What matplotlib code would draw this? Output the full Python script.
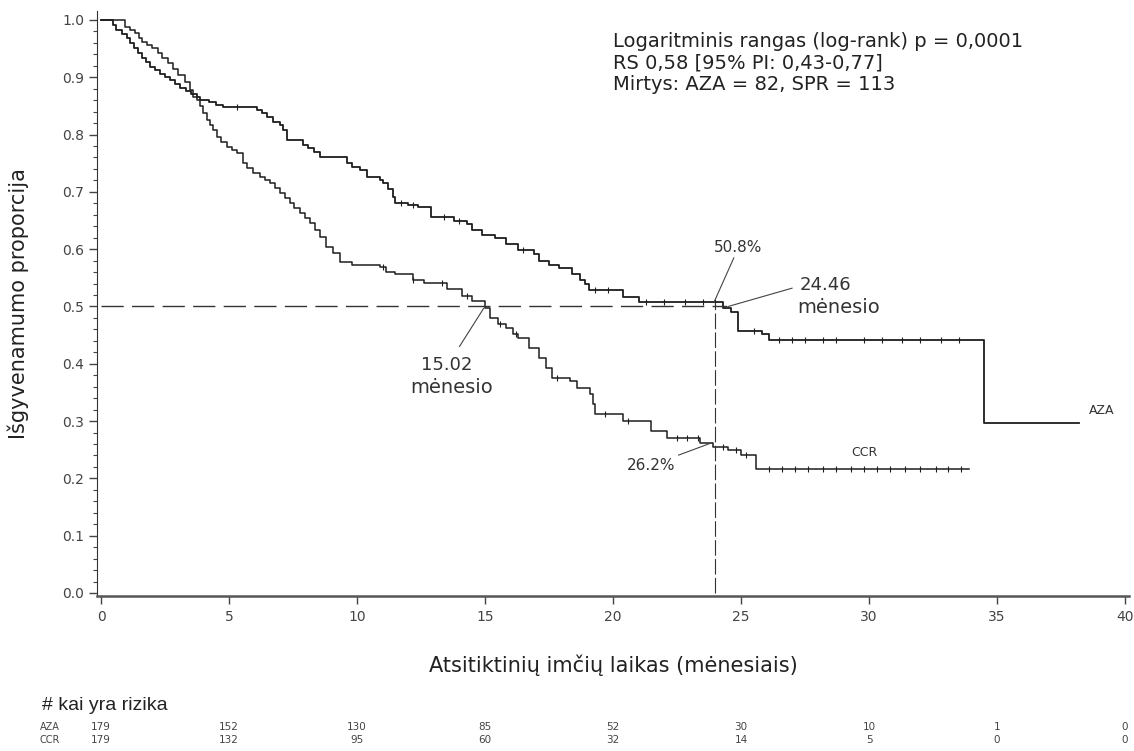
import numpy as np
import matplotlib.pyplot as plt
from matplotlib.ticker import MultipleLocator

plt.rcParams['font.family'] = ['DejaVu Sans']

# Kaplan-Meier step points (months, survival proportion)
aza_t = [0, 0.45, 0.6, 0.8, 1.0, 1.15, 1.3, 1.45, 1.6, 1.75, 1.9, 2.1, 2.3, 2.5,
         2.7, 2.9, 3.1, 3.3, 3.5, 3.74, 3.86, 4.2, 4.5, 4.76, 6.08, 6.3, 6.47,
         6.7, 6.98, 7.1, 7.25, 7.88, 8.1, 8.3, 8.54, 9.6, 9.8, 10.1, 10.4, 10.9,
         11.0, 11.2, 11.4, 11.5, 12.0, 12.4, 12.9, 13.8, 14.3, 14.5, 14.9, 15.4,
         15.8, 16.3, 16.9, 17.1, 17.5, 17.9, 18.4, 18.7, 18.9, 19.06, 20.4, 21.0,
         24.3, 24.6, 24.9, 25.8, 26.1, 34.5, 38.2]
aza_s = [1.0, 0.992, 0.983, 0.976, 0.968, 0.96, 0.951, 0.943, 0.934, 0.926,
         0.918, 0.912, 0.906, 0.9, 0.895, 0.889, 0.881, 0.876, 0.871, 0.866,
         0.860, 0.856, 0.852, 0.848, 0.843, 0.837, 0.831, 0.822, 0.817, 0.808,
         0.79, 0.782, 0.776, 0.77, 0.76, 0.75, 0.744, 0.738, 0.726, 0.721,
         0.716, 0.705, 0.691, 0.681, 0.677, 0.674, 0.656, 0.65, 0.644, 0.633,
         0.625, 0.619, 0.609, 0.598, 0.592, 0.58, 0.573, 0.567, 0.556, 0.547,
         0.539, 0.528, 0.516, 0.508, 0.498, 0.49, 0.458, 0.452, 0.441, 0.297,
         0.297]

ccr_t = [0, 0.94, 1.15, 1.33, 1.5, 1.6, 1.8, 1.99, 2.22, 2.4, 2.6, 2.8, 3.0,
         3.27, 3.47, 3.6, 3.75, 3.86, 4.0, 4.13, 4.25, 4.37, 4.52, 4.7, 4.91,
         5.1, 5.3, 5.54, 5.7, 5.93, 6.2, 6.4, 6.59, 6.8, 6.98, 7.2, 7.37, 7.55,
         7.76, 7.95, 8.15, 8.35, 8.54, 8.8, 9.06, 9.32, 9.8, 10.9, 11.15, 11.5,
         12.2, 12.6, 13.5, 14.1, 14.5, 15.0, 15.2, 15.5, 15.8, 16.1, 16.3, 16.7,
         17.1, 17.4, 17.6, 18.3, 18.6, 19.1, 19.2, 19.3, 20.4, 21.5, 22.1, 23.4,
         23.9, 24.5, 25.0, 25.6, 33.9]
ccr_s = [1.0, 0.988, 0.983, 0.977, 0.968, 0.962, 0.957, 0.951, 0.942, 0.934,
         0.925, 0.915, 0.904, 0.892, 0.878, 0.866, 0.86, 0.85, 0.838, 0.825,
         0.816, 0.808, 0.796, 0.787, 0.778, 0.773, 0.768, 0.75, 0.742, 0.733,
         0.726, 0.721, 0.716, 0.707, 0.698, 0.69, 0.681, 0.672, 0.663, 0.655,
         0.646, 0.634, 0.621, 0.604, 0.593, 0.578, 0.572, 0.569, 0.56, 0.556,
         0.546, 0.541, 0.53, 0.518, 0.51, 0.497, 0.48, 0.47, 0.463, 0.452,
         0.445, 0.428, 0.41, 0.393, 0.376, 0.37, 0.358, 0.348, 0.33, 0.313,
         0.3, 0.283, 0.271, 0.261, 0.254, 0.249, 0.24, 0.217, 0.217]

# censored observations
aza_cens = [5.3, 11.7, 12.2, 13.4, 14.0, 16.5, 19.3, 19.8, 21.3, 22.0, 22.8,
            23.5, 24.0, 25.5, 26.5, 27.0, 27.5, 28.2, 28.7, 29.8, 30.5, 31.3,
            32.0, 32.8, 33.5]
ccr_cens = [11.0, 12.2, 13.3, 14.3, 15.6, 16.2, 17.8, 19.7, 20.6, 22.5, 22.9,
            23.3, 24.3, 24.8, 25.2, 26.1, 26.6, 27.1, 27.6, 28.2, 28.7, 29.3,
            29.8, 30.3, 30.8, 31.4, 32.0, 32.6, 33.1, 33.6]

risk_times = [0, 5, 10, 15, 20, 25, 30, 35, 40]
risk_aza = [179, 152, 130, 85, 52, 30, 10, 1, 0]
risk_ccr = [179, 132, 95, 60, 32, 14, 5, 0, 0]

median_aza = 24.46
median_ccr = 15.02

fig = plt.figure(figsize=(11.34, 7.51), dpi=100)
ax = fig.add_axes([0.0857, 0.2066, 0.9098, 0.7783])

line_col = '#1e1e1e'
txt_col = '#333333'

ax.step(aza_t, aza_s, where='post', color=line_col, lw=1.3)
ax.step(ccr_t, ccr_s, where='post', color=line_col, lw=1.1)


def step_at(t, s, c):
    idx = np.searchsorted(t, c, side='right') - 1
    return np.asarray(s)[idx]


ax.plot(aza_cens, step_at(aza_t, aza_s, aza_cens), ls='none', marker='|',
        ms=4, mew=0.8, color=line_col)
ax.plot(ccr_cens, step_at(ccr_t, ccr_s, ccr_cens), ls='none', marker='|',
        ms=4, mew=0.8, color=line_col)

# median and 24-month reference lines
ax.hlines(0.5, 0, median_aza, colors='#333333', lw=1.0, linestyles=(0, (16, 6)))
ax.vlines(24.0, 0, 0.508, colors='#333333', lw=0.8, linestyles=(0, (14, 3)))

# annotations
ann = dict(arrowstyle='-', color='#444444', lw=0.8, shrinkA=0, shrinkB=0)
ax.annotate('50.8%', xy=(23.95, 0.508), xytext=(24.9, 0.603), ha='center',
            va='center', fontsize=11, color=txt_col, arrowprops=ann)
ax.annotate('', xy=(24.5, 0.5), xytext=(27.0, 0.532), arrowprops=ann)
ax.text(28.3, 0.538, '24.46', ha='center', va='center', fontsize=13, color=txt_col)
ax.text(28.8, 0.499, 'mėnesio', ha='center', va='center', fontsize=14, color=txt_col)
ax.annotate('', xy=(14.95, 0.497), xytext=(14.0, 0.43), arrowprops=ann)
ax.text(13.5, 0.398, '15.02', ha='center', va='center', fontsize=13, color=txt_col)
ax.text(13.7, 0.358, 'mėnesio', ha='center', va='center', fontsize=14, color=txt_col)
ax.annotate('26.2%', xy=(23.85, 0.262), xytext=(21.5, 0.223), ha='center',
            va='center', fontsize=11, color=txt_col, arrowprops=ann)
ax.text(29.8, 0.246, 'CCR', ha='center', va='center', fontsize=9, color=txt_col)
ax.text(38.6, 0.318, 'AZA', ha='left', va='center', fontsize=9, color=txt_col)

for txt, y in [('Logaritminis rangas (log-rank) p = 0,0001', 0.962),
               ('RS 0,58 [95% PI: 0,43-0,77]', 0.925),
               ('Mirtys: AZA = 82, SPR = 113', 0.888)]:
    ax.text(20.0, y, txt, fontsize=14, va='center', color='#222222')

ax.set_xlim(-0.15, 40.15)
ax.set_ylim(-0.005, 1.015)
ax.set_xticks(range(0, 41, 5))
ax.set_yticks(np.arange(0, 1.01, 0.1))
ax.set_yticklabels(['%.1f' % v for v in np.arange(0, 1.01, 0.1)])
ax.yaxis.set_minor_locator(MultipleLocator(0.02))
ax.tick_params(axis='both', direction='out', labelsize=10, colors='#444444',
               length=6, width=1)
ax.tick_params(axis='y', which='minor', direction='out', length=3, width=0.8,
               colors='#444444')
ax.tick_params(axis='x', pad=4)
for side in ['top', 'right']:
    ax.spines[side].set_visible(False)
ax.spines['left'].set_color('#333333')
ax.spines['bottom'].set_color('#555555')
ax.spines['bottom'].set_linewidth(1.8)

ax.set_xlabel('Atsitiktinių imčių laikas (mėnesiais)', fontsize=15,
              color='#222222', labelpad=22)
ax.set_ylabel('Išgyvenamumo proporcija', fontsize=15, color='#222222',
              labelpad=24)

# number at risk table
fig.text(42 / 1134, 1 - 705 / 751, '# kai yra rizika', fontsize=14,
         family=['Liberation Sans Narrow', 'Liberation Sans'], va='center',
         color='#222222')
for label, vals, ypix in [('AZA', risk_aza, 727), ('CCR', risk_ccr, 740)]:
    yf = 1 - ypix / 751
    fig.text(50 / 1134, yf, label, fontsize=7, ha='center', va='center',
             color='#444444')
    for t, v in zip(risk_times, vals):
        xf = ax.transData.transform((t, 0))[0] / fig.bbox.width
        fig.text(xf, yf, str(v), fontsize=7.5, ha='center', va='center',
                 color='#444444')

fig.savefig('out.png', dpi=100)
